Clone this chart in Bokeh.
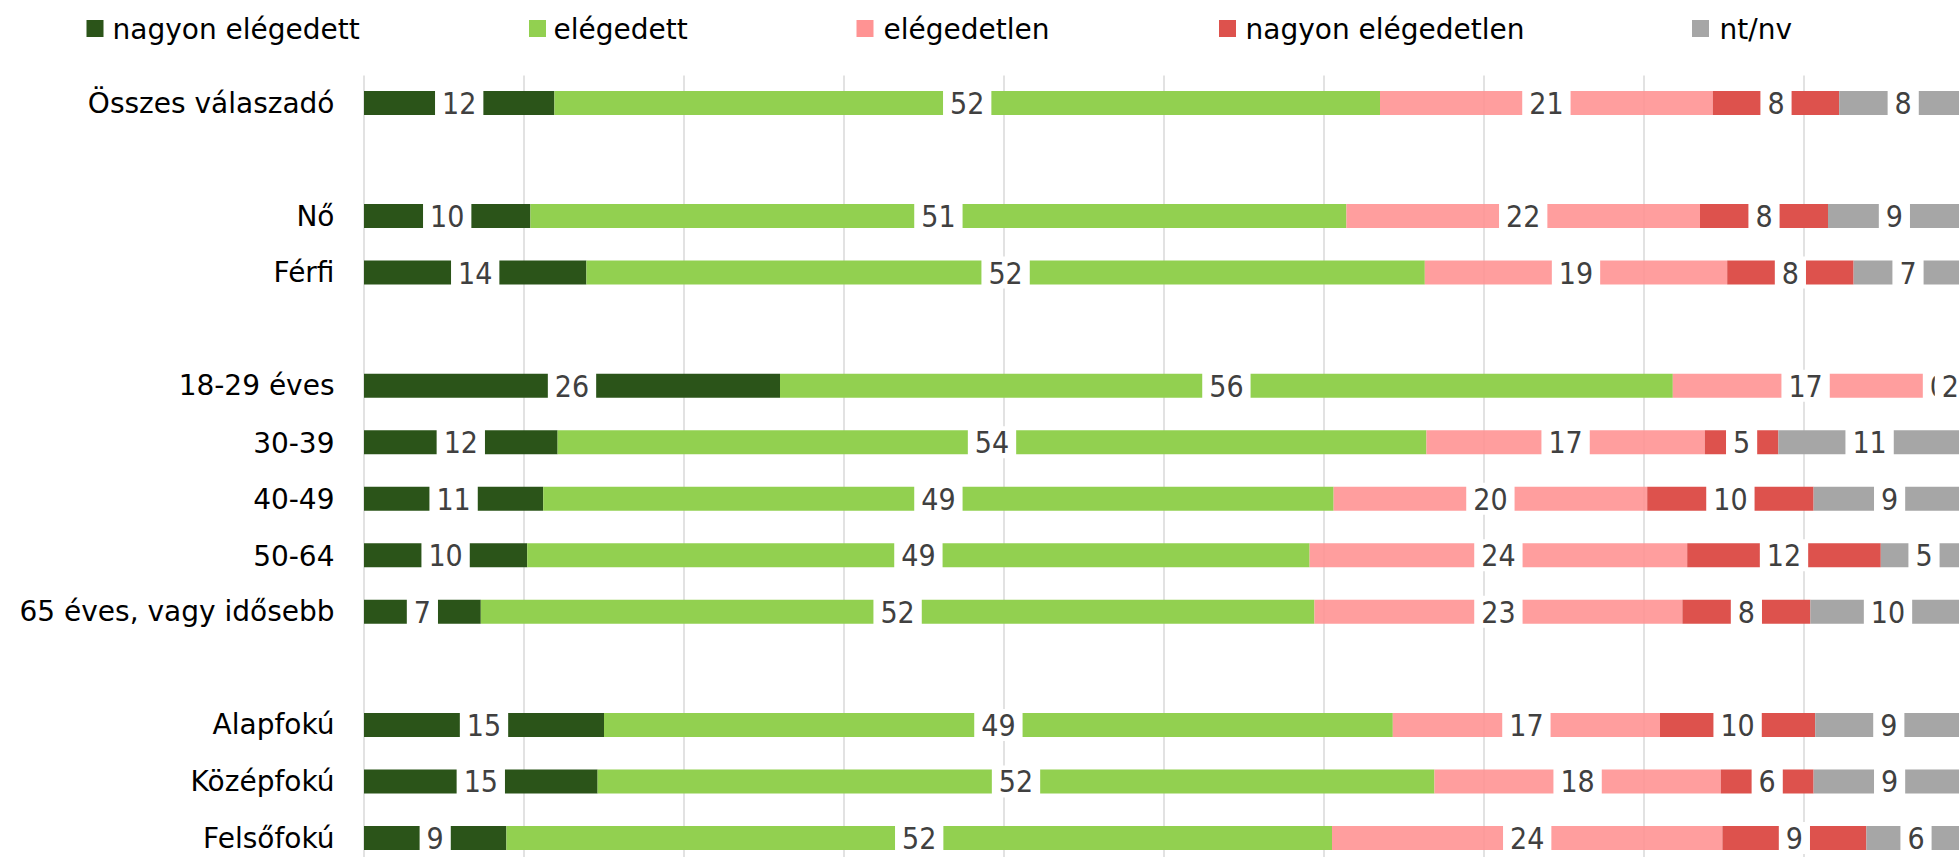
from bokeh.plotting import figure
from bokeh.models import Range1d, ColumnDataSource
from bokeh.embed import file_html
from bokeh.resources import INLINE
from bokeh.core.properties import value

# ---------------- data ----------------
categories = ["Összes válaszadó", "Nő", "Férfi", "18-29 éves", "30-39", "40-49",
              "50-64", "65 éves, vagy idősebb", "Alapfokú", "Középfokú", "Felsőfokú"]
# row slots (blank slots separate the groups)
slots = [0, 2, 3, 5, 6, 7, 8, 9, 11, 12, 13]

series_names = ["nagyon elégedett", "elégedett", "elégedetlen", "nagyon elégedetlen", "nt/nv"]

nagyon_elegedett = [11.9, 10.4, 13.9, 26.0, 12.1, 11.2, 10.2, 7.3, 15.0, 14.6, 8.9]
elegedett = [51.6, 51.0, 52.4, 55.8, 54.3, 49.4, 48.9, 52.1, 49.3, 52.3, 51.6]
elegedetlen = [20.8, 22.1, 18.9, 16.6, 17.4, 19.6, 23.6, 23.0, 16.7, 17.9, 24.4]
nagyon_elegedetlen = [7.9, 8.0, 7.9, 0.0, 4.6, 10.4, 12.1, 8.0, 9.7, 5.8, 9.0]
nt_nv = [8.0, 8.3, 6.8, 1.5, 11.4, 9.5, 5.4, 9.7, 9.2, 9.5, 6.2]

lab_nagyon_elegedett = [12, 10, 14, 26, 12, 11, 10, 7, 15, 15, 9]
lab_elegedett = [52, 51, 52, 56, 54, 49, 49, 52, 49, 52, 52]
lab_elegedetlen = [21, 22, 19, 17, 17, 20, 24, 23, 17, 18, 24]
lab_nagyon_elegedetlen = [8, 8, 8, 0, 5, 10, 12, 8, 10, 6, 9]
lab_nt_nv = [8, 9, 7, 2, 11, 9, 5, 10, 9, 9, 6]

grid_ticks = [0, 10, 20, 30, 40, 50, 60, 70, 80, 90, 100]

# ---------------- style / layout ----------------
colors = ["#2b5419", "#92d050", "#ff9393", "#dd524d", "#a6a6a6"]
alphas = [1.0, 1.0, 0.9, 1.0, 1.0]
series_vals = [nagyon_elegedett, elegedett, elegedetlen, nagyon_elegedetlen, nt_nv]
series_labs = [lab_nagyon_elegedett, lab_elegedett, lab_elegedetlen,
               lab_nagyon_elegedetlen, lab_nt_nv]

LABEL_FONT = value("DejaVu Sans")
NUM_FONT = value("DejaVu Sans Condensed")

W, H = 1959, 857
X0_PX = 363.5          # pixel position of value 0
PX_PER_UNIT = 16.0
Y0_PX = 102.5          # pixel position of slot 0
PX_PER_SLOT = 56.54


def xd(px):
    return (px - X0_PX) / PX_PER_UNIT


def yd(px):
    return (px - Y0_PX) / PX_PER_SLOT


p = figure(width=W, height=H, x_range=Range1d(xd(0), xd(W)),
           y_range=Range1d(yd(H), yd(0)), x_axis_location=None,
           y_axis_location=None, toolbar_location=None, output_backend="svg",
           min_border=0)
p.outline_line_color = None
for g in p.grid:
    g.visible = False

# vertical gridlines
p.segment(x0=grid_ticks, x1=grid_ticks, y0=[yd(75)] * len(grid_ticks),
          y1=[yd(H + 20)] * len(grid_ticks), line_color="#d9d9d9", line_width=1.5)

# category labels
p.text(x=[xd(334)] * len(slots), y=slots, text=categories, text_font=LABEL_FONT,
       text_font_size="28px", text_color="#000000", text_align="right",
       text_baseline="middle")

# legend
sq_px = [94.5, 537, 864.5, 1227, 1700]
tx_px = [112, 553, 883, 1245, 1719]
p.scatter(x=[xd(v) for v in sq_px], y=[yd(28)] * 5, marker="square", size=17,
          fill_color=colors, line_color=None)
p.text(x=[xd(v) for v in tx_px], y=[yd(28.6)] * 5, text=series_names,
       text_font=LABEL_FONT, text_font_size="28px", text_color="#000000",
       text_baseline="middle", text_align="left")

# stacked bars
left = [0.0] * len(slots)
sources = []
for vals, labs, col, a in zip(series_vals, series_labs, colors, alphas):
    right = [l + v for l, v in zip(left, vals)]
    src = ColumnDataSource(dict(y=slots, left=left, right=right,
                                mid=[(l + r) / 2 for l, r in zip(left, right)],
                                lab=[str(x) for x in labs]))
    p.hbar(y="y", left="left", right="right", height=24 / PX_PER_SLOT, source=src,
           fill_color=col, fill_alpha=a, line_color=None)
    sources.append(src)
    left = right

# value labels with white boxes
for src in sources:
    p.text(x="mid", y="y", text="lab", source=src, text_font=NUM_FONT,
           text_font_size="30px", text_color="#404040", text_align="center",
           text_baseline="middle", background_fill_color="white",
           padding=dict(x=7, y=5))

open("out.html", "w").write(file_html(p, INLINE))
